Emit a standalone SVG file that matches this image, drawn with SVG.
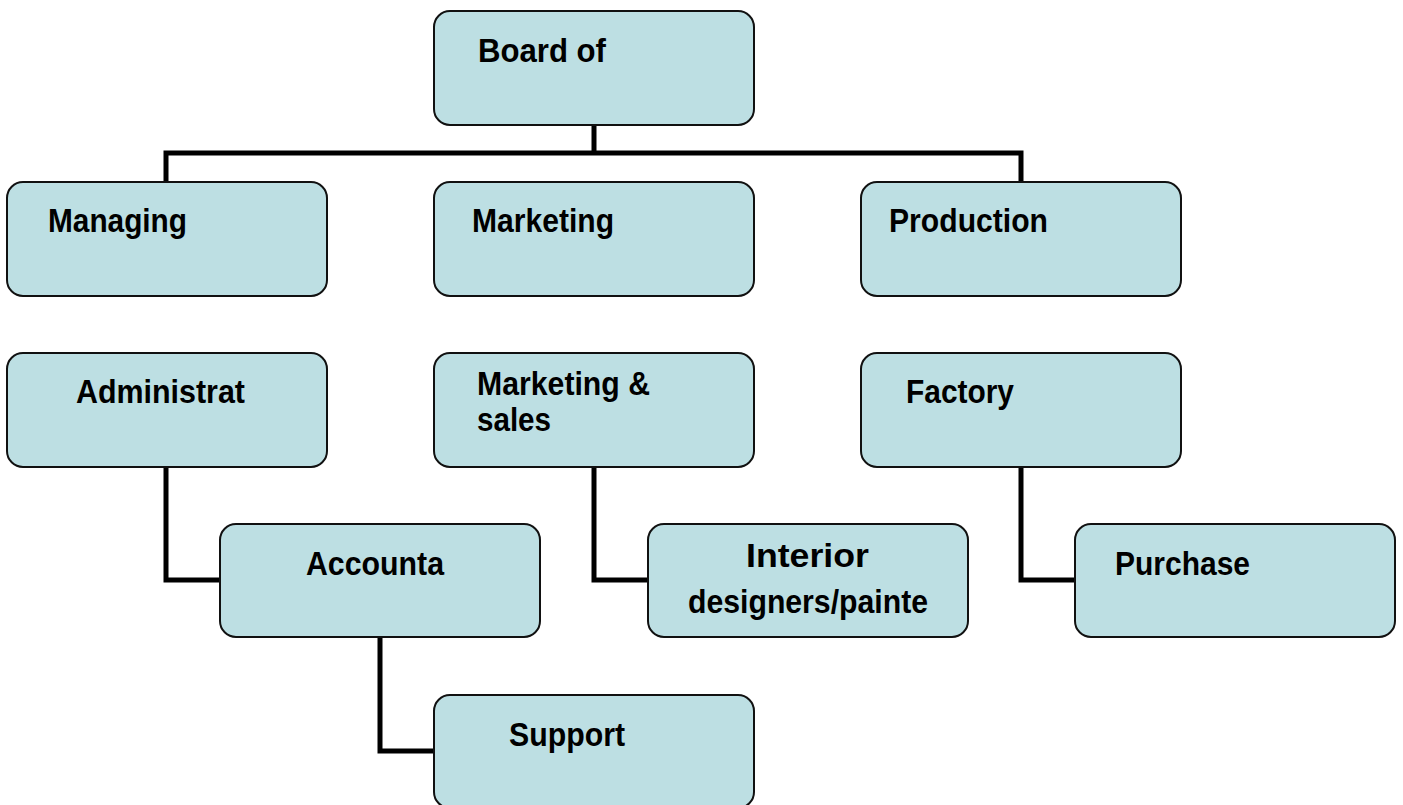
<svg xmlns="http://www.w3.org/2000/svg" width="1403" height="805" viewBox="0 0 1403 805">
<style>
.box{fill:#bddfe3;stroke:#111;stroke-width:2}
.lbl{font-family:"Liberation Sans",Arial,sans-serif;font-weight:bold;font-size:34px;fill:#000}
.con{fill:none;stroke:#000;stroke-width:5;stroke-linejoin:miter}
</style>
<rect width="1403" height="805" fill="#fff"/>
<g id="connectors">
<path class="con" d="M594 125 V153 M166 182 V153 H1021 V182"/>
<path class="con" d="M166 467 V580 H220"/>
<path class="con" d="M594 467 V580 H648"/>
<path class="con" d="M1021 467 V580 H1075"/>
<path class="con" d="M380 637 V751 H434"/>
</g>
<g id="board">
<rect class="box" x="434" y="11" width="320" height="114" rx="16"/>
<text class="lbl" x="478" y="62" textLength="128" lengthAdjust="spacingAndGlyphs">Board of</text>
</g>
<g id="managing">
<rect class="box" x="7" y="182" width="320" height="114" rx="16"/>
<text class="lbl" x="48" y="232" textLength="139" lengthAdjust="spacingAndGlyphs">Managing</text>
</g>
<g id="marketing">
<rect class="box" x="434" y="182" width="320" height="114" rx="16"/>
<text class="lbl" x="472" y="232" textLength="142" lengthAdjust="spacingAndGlyphs">Marketing</text>
</g>
<g id="production">
<rect class="box" x="861" y="182" width="320" height="114" rx="16"/>
<text class="lbl" x="889" y="232" textLength="159" lengthAdjust="spacingAndGlyphs">Production</text>
</g>
<g id="administrat">
<rect class="box" x="7" y="353" width="320" height="114" rx="16"/>
<text class="lbl" x="76" y="403" textLength="169" lengthAdjust="spacingAndGlyphs">Administrat</text>
</g>
<g id="marketing-sales">
<rect class="box" x="434" y="353" width="320" height="114" rx="16"/>
<text class="lbl" x="477" y="395" textLength="173" lengthAdjust="spacingAndGlyphs">Marketing &amp;</text>
<text class="lbl" x="477" y="431" textLength="74" lengthAdjust="spacingAndGlyphs">sales</text>
</g>
<g id="factory">
<rect class="box" x="861" y="353" width="320" height="114" rx="16"/>
<text class="lbl" x="906" y="403" textLength="108" lengthAdjust="spacingAndGlyphs">Factory</text>
</g>
<g id="accounta">
<rect class="box" x="220" y="524" width="320" height="113" rx="16"/>
<text class="lbl" x="306" y="575" textLength="138" lengthAdjust="spacingAndGlyphs">Accounta</text>
</g>
<g id="interior">
<rect class="box" x="648" y="524" width="320" height="113" rx="16"/>
<text class="lbl" x="746" y="567" textLength="123" lengthAdjust="spacingAndGlyphs">Interior</text>
<text class="lbl" x="688" y="613" textLength="240" lengthAdjust="spacingAndGlyphs">designers/painte</text>
</g>
<g id="purchase">
<rect class="box" x="1075" y="524" width="320" height="113" rx="16"/>
<text class="lbl" x="1115" y="575" textLength="135" lengthAdjust="spacingAndGlyphs">Purchase</text>
</g>
<g id="support">
<rect class="box" x="434" y="695" width="320" height="113" rx="16"/>
<text class="lbl" x="509" y="746" textLength="116" lengthAdjust="spacingAndGlyphs">Support</text>
</g>
</svg>
